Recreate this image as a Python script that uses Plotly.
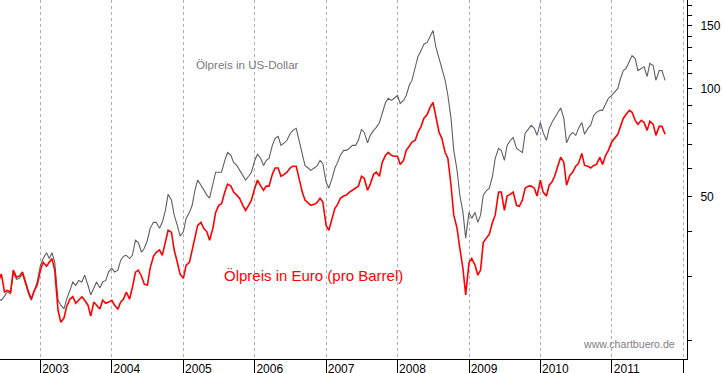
import pandas as pd
import plotly.graph_objects as go

# Brent oil price, semi-monthly readings (1st and 15th of month), June 2002 - Oct 2011
usd_2002 = [26.0, 25.8, 26.5, 27.2, 26.9, 30.7, 29.5, 29.7, 30.5, 28.6, 26.9, 25.8, 27.5, 29.0]
eur_2002 = [29.3, 30.5, 27.2, 27.5, 27.2, 31.3, 29.9, 30.1, 30.9, 29.0, 27.2, 26.0, 27.5, 28.4]
usd_2003 = [32.3, 33.7, 35.0, 33.7, 35.0, 32.9, 25.8, 25.0, 24.4, 26.0, 27.5, 29.0,
            28.4, 29.3, 29.0, 30.3, 28.4, 26.7, 27.9, 29.0, 27.9, 29.0, 29.3, 30.9]
eur_2003 = [31.3, 32.9, 32.1, 32.9, 33.7, 31.3, 24.2, 22.4, 23.0, 24.8, 26.0, 26.4,
            25.3, 25.8, 26.4, 25.8, 25.0, 23.3, 25.5, 25.0, 24.4, 25.8, 25.3, 25.5]
usd_2004 = [31.7, 30.9, 31.3, 33.3, 34.2, 34.4, 33.7, 34.4, 37.9, 37.4, 35.1, 36.0,
            37.9, 40.9, 42.5, 42.5, 40.9, 42.5, 45.9, 50.9, 49.0, 44.5, 41.7, 38.9]
eur_2004 = [25.8, 25.0, 24.4, 25.5, 26.0, 27.2, 26.0, 28.0, 30.9, 31.3, 30.1, 28.6,
            28.4, 31.7, 34.2, 35.1, 35.6, 34.4, 37.4, 40.4, 39.9, 35.6, 32.9, 30.5]
usd_2005 = [40.0, 43.6, 45.3, 47.4, 52.2, 55.7, 53.9, 52.2, 50.6, 49.6, 53.9, 58.6,
            58.6, 58.6, 63.2, 66.5, 65.3, 62.4, 61.2, 59.3, 57.1, 55.7, 57.1, 58.6]
eur_2005 = [29.7, 32.3, 32.9, 35.6, 37.9, 41.7, 42.5, 40.9, 40.0, 37.9, 40.9, 45.3,
            47.4, 47.9, 51.6, 54.3, 53.6, 51.6, 50.6, 49.6, 47.4, 45.9, 47.4, 49.0]
usd_2006 = [63.2, 65.7, 64.0, 61.2, 63.2, 64.0, 69.6, 72.8, 73.7, 69.6, 70.7, 71.9,
            75.1, 76.6, 77.6, 71.9, 65.3, 61.2, 60.2, 59.3, 60.2, 60.9, 63.2, 62.0]
eur_2006 = [52.9, 55.7, 53.6, 52.2, 53.6, 53.6, 57.8, 60.2, 60.2, 57.1, 57.8, 58.6,
            60.2, 60.9, 60.9, 56.4, 51.6, 49.0, 48.2, 47.4, 47.7, 48.2, 49.6, 48.5]
usd_2007 = [55.0, 52.9, 56.4, 60.2, 62.4, 65.3, 67.4, 67.4, 68.3, 69.6, 69.6, 71.9,
            77.1, 75.6, 70.7, 74.2, 76.6, 78.1, 80.6, 86.0, 91.6, 94.1, 92.8, 94.1]
eur_2007 = [41.7, 40.4, 43.6, 46.5, 47.7, 49.6, 50.3, 50.6, 51.6, 52.2, 52.9, 53.6,
            57.1, 56.4, 52.2, 54.3, 57.8, 58.6, 57.1, 62.4, 65.3, 66.5, 65.3, 64.9]
usd_2008 = [95.8, 91.0, 92.8, 95.8, 102.1, 105.5, 113.8, 123.0, 127.7, 133.1, 134.6, 140.0,
            145.2, 131.0, 121.3, 113.8, 105.5, 95.8, 82.7, 67.4, 59.3, 50.6, 45.3, 38.4]
eur_2008 = [64.9, 61.6, 63.2, 67.4, 69.2, 71.1, 71.9, 75.6, 78.6, 82.7, 84.8, 88.6,
            91.6, 84.3, 75.6, 72.8, 66.5, 64.0, 53.9, 44.5, 40.9, 36.0, 31.6, 26.7]
usd_2009 = [45.3, 43.6, 45.3, 42.5, 44.5, 50.6, 52.2, 52.9, 57.1, 64.0, 68.3, 67.4,
            63.2, 69.6, 71.9, 73.2, 68.3, 67.4, 66.5, 75.1, 77.6, 79.1, 77.6, 74.2]
eur_2009 = [32.9, 33.7, 32.3, 30.3, 31.3, 37.4, 38.4, 39.4, 42.5, 44.5, 51.6, 51.6,
            45.9, 50.3, 50.9, 51.6, 47.4, 47.1, 49.0, 52.9, 53.6, 53.6, 52.9, 50.3]
usd_2010 = [80.6, 75.6, 71.9, 77.6, 80.6, 82.7, 86.0, 88.4, 82.7, 70.7, 74.2, 75.6,
            74.2, 77.6, 80.6, 74.7, 77.6, 79.1, 84.3, 86.0, 87.1, 87.1, 90.5, 94.1]
eur_2010 = [55.7, 51.6, 50.3, 53.9, 55.0, 57.1, 61.2, 64.5, 62.4, 53.9, 57.5, 58.6,
            60.9, 62.0, 66.1, 61.2, 60.9, 60.2, 61.2, 61.6, 64.5, 61.6, 65.3, 67.4]
usd_2011 = [95.8, 97.6, 100.2, 106.8, 112.4, 113.8, 119.8, 123.7, 121.3, 112.4, 113.8, 115.3,
            108.2, 117.6, 116.1, 105.5, 112.4, 112.4, 105.5]
eur_2011 = [71.1, 72.8, 74.7, 78.6, 82.7, 84.8, 87.1, 86.0, 81.7, 79.6, 81.7, 80.6,
            76.6, 81.2, 79.6, 74.2, 78.6, 78.6, 74.7]

usd = (usd_2002 + usd_2003 + usd_2004 + usd_2005 + usd_2006 + usd_2007 +
       usd_2008 + usd_2009 + usd_2010 + usd_2011)
eur = (eur_2002 + eur_2003 + eur_2004 + eur_2005 + eur_2006 + eur_2007 +
       eur_2008 + eur_2009 + eur_2010 + eur_2011)
dates_usd = pd.date_range("2002-06-01", periods=len(usd), freq="SMS")
dates_eur = pd.date_range("2002-06-01", periods=len(eur), freq="SMS")

# x-axis ticks: year starts; the last one (2012) carries no label
year_ticks = ["2003-01-01", "2004-01-01", "2005-01-01", "2006-01-01", "2007-01-01",
              "2008-01-01", "2009-01-01", "2010-01-01", "2011-01-01", "2012-01-01"]
year_labels = ["2003", "2004", "2005", "2006", "2007", "2008", "2009", "2010", "2011", ""]

y_labels = [50, 100, 150]
y_minor = [20, 30, 40, 60, 70, 80, 90, 110, 120, 130, 140, 160, 170]

FONT = "Arial, 'Liberation Sans', sans-serif"

fig = go.Figure()
fig.add_trace(go.Scatter(x=dates_usd, y=usd, mode="lines",
                         line=dict(color="#606060", width=1.1), name="USD"))
fig.add_trace(go.Scatter(x=dates_eur, y=eur, mode="lines",
                         line=dict(color="#ff0000", width=1.6), name="EUR"))

fig.update_layout(
    width=723, height=373,
    margin=dict(l=0, r=36, t=0, b=14),
    paper_bgcolor="white", plot_bgcolor="white",
    showlegend=False,
    font=dict(family=FONT, size=12, color="black"),
    xaxis=dict(
        type="date",
        range=["2002-06-08", "2012-01-21"],
        tickmode="array", tickvals=year_ticks, ticktext=year_labels,
        showgrid=True, gridcolor="#b0aac8", gridwidth=1, griddash="3px,3px",
        ticks="outside", ticklen=14, tickcolor="black", tickwidth=1,
        showline=True, linecolor="black", linewidth=1,
        ticklabelshift=15, ticklabelstandoff=-15,
        tickfont=dict(size=12, color="black", family=FONT),
        zeroline=False, automargin=False,
    ),
    yaxis=dict(
        type="log", side="right",
        range=[1.2482, 2.2470],
        tickmode="array", tickvals=y_labels, ticktext=[str(v) for v in y_labels],
        ticks="outside", ticklen=4, tickcolor="black",
        showline=True, linecolor="black", linewidth=1,
        showgrid=False, zeroline=False, automargin=False,
        ticklabelstandoff=6,
        tickfont=dict(size=12, color="black", family=FONT),
        minor=dict(tickmode="array", tickvals=y_minor, ticks="outside",
                   ticklen=4, tickcolor="black", showgrid=False),
    ),
    annotations=[
        dict(text="Ölpreis in US-Dollar", xref="paper", yref="paper",
             x=0.2824, y=0.8195, xanchor="left", yanchor="middle", showarrow=False,
             font=dict(family=FONT, size=11.6, color="#7a7a7a")),
        dict(text="Ölpreis in Euro (pro Barrel)", xref="paper", yref="paper",
             x=0.3231, y=0.2312, xanchor="left", yanchor="middle", showarrow=False,
             font=dict(family=FONT, size=15, color="#ff0000")),
        dict(text="www.chartbuero.de", xref="paper", yref="paper",
             x=0.9854, y=0.0418, xanchor="right", yanchor="middle", showarrow=False,
             font=dict(family=FONT, size=10.6, color="#808080")),
    ],
)

fig.write_html(
    "out.html",
    config={"displayModeBar": False},
    post_script="document.body.style.margin='0px';document.body.style.overflow='hidden';",
)
